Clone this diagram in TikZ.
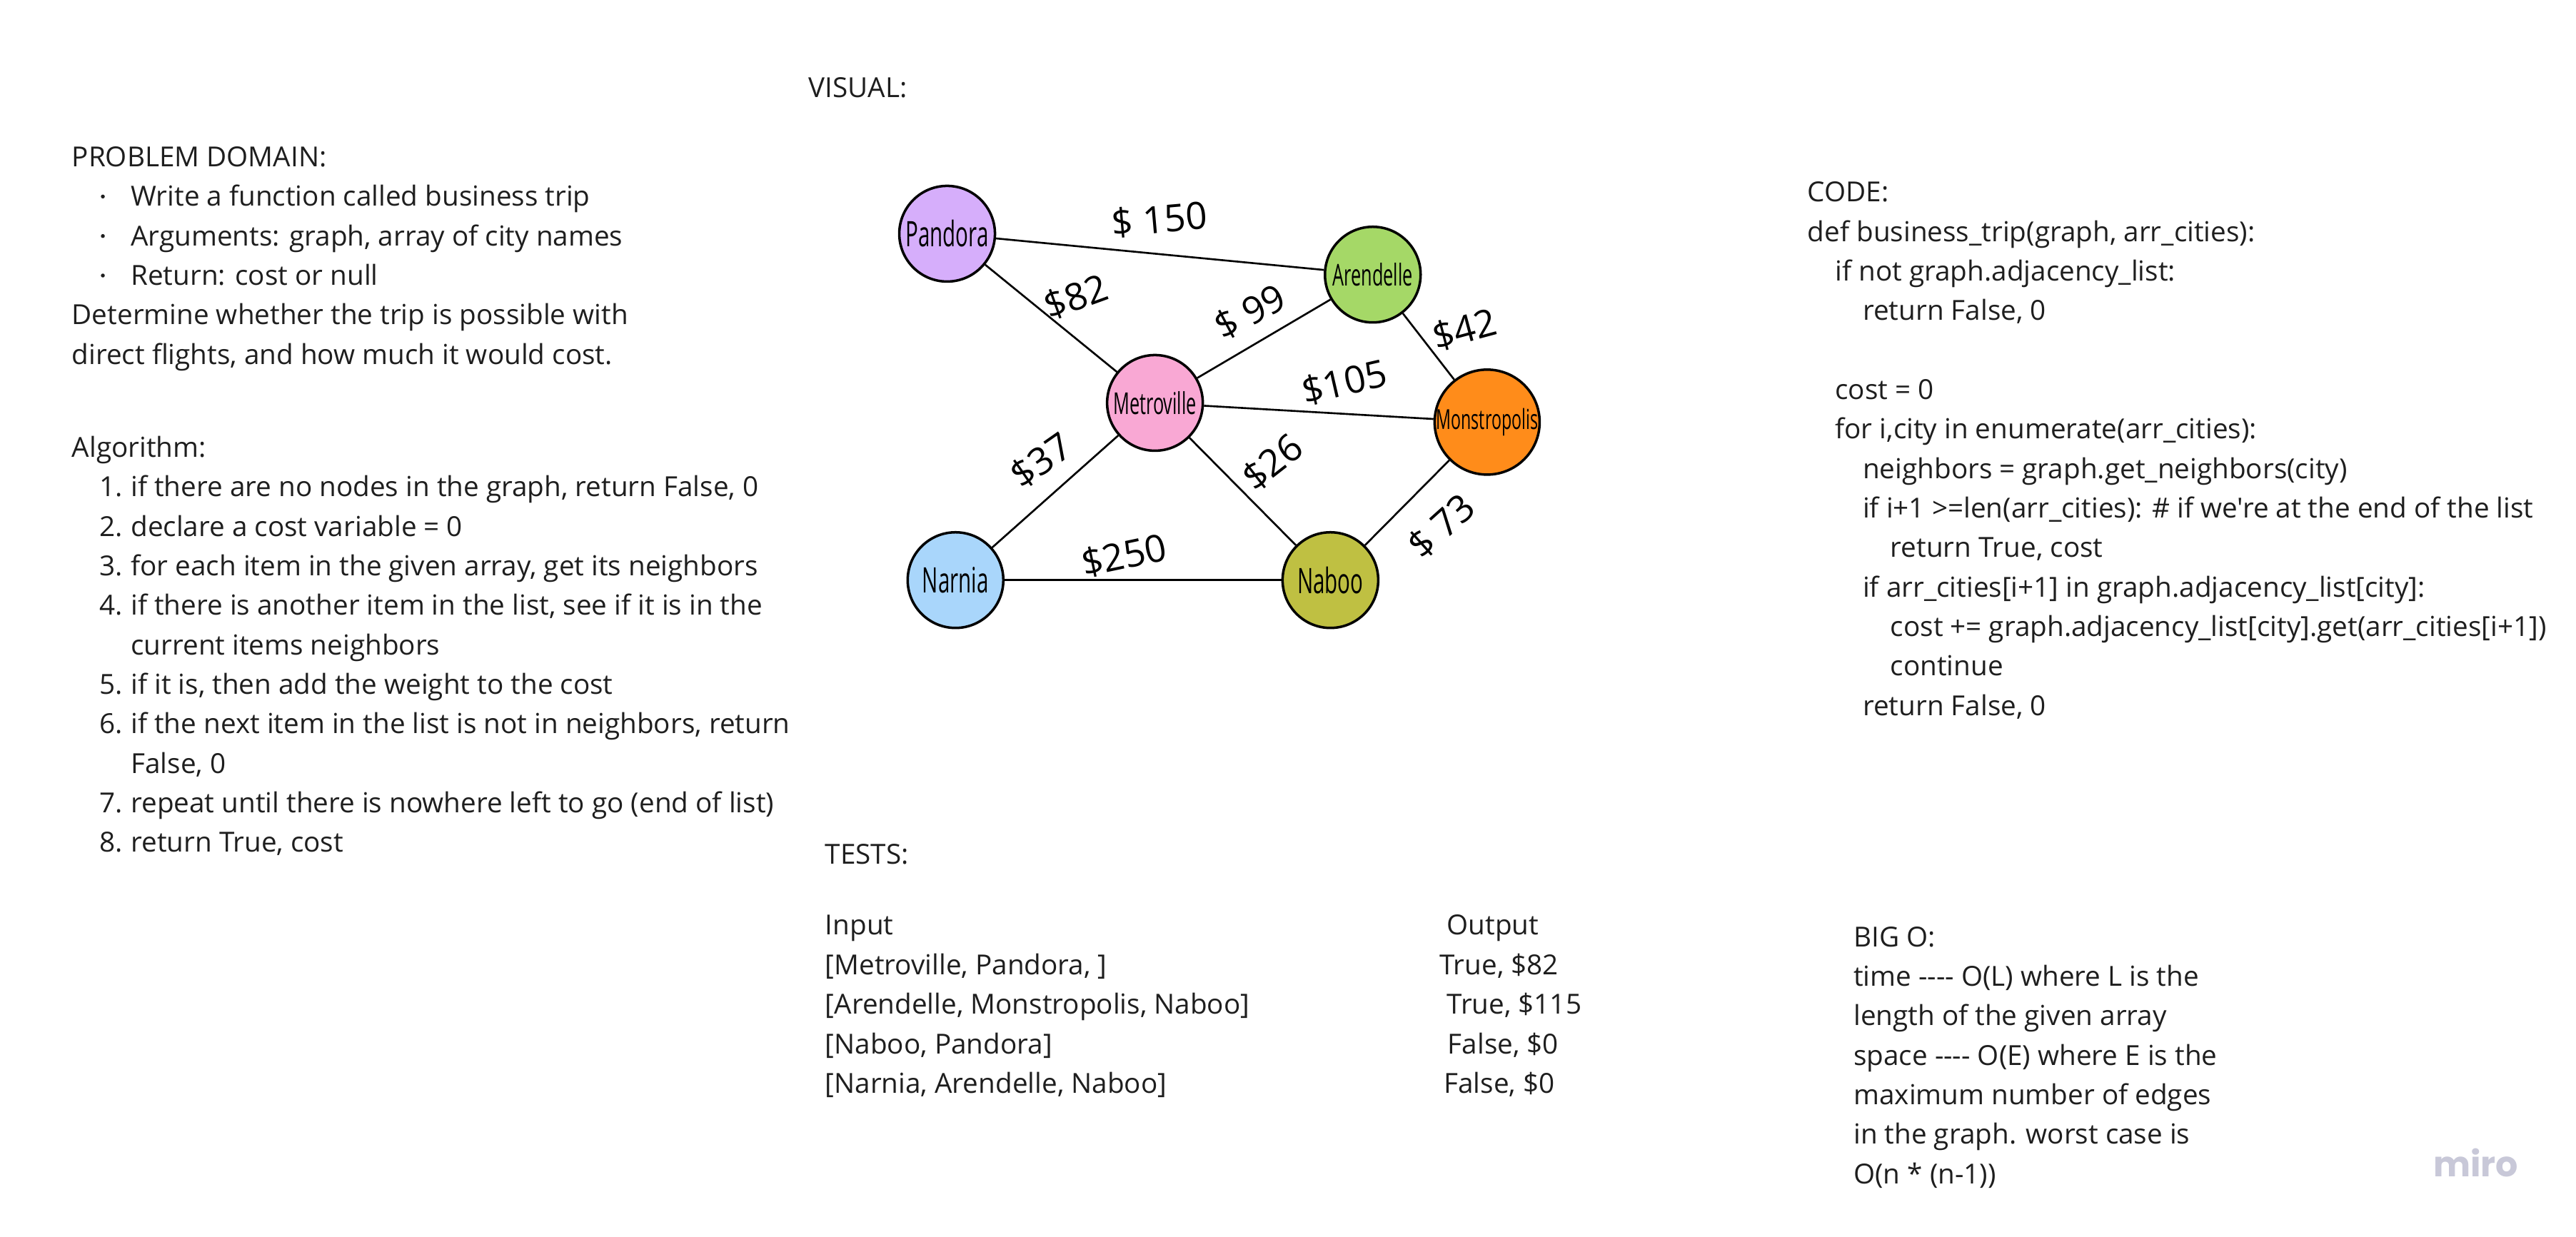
\documentclass[tikz,border=0pt]{standalone}
\usepackage{fontspec}
\setmainfont{Open Sans}[Ligatures=TeXOff]
\newfontfamily\handfont{Open Sans}[FakeStretch=0.6]
\newfontfamily\logofont{Poppins}

\definecolor{inkcol}{HTML}{1E1E1E}
\definecolor{pandoracol}{HTML}{D6AEFB}
\definecolor{arendellecol}{HTML}{A5D867}
\definecolor{metrovillecol}{HTML}{F9A8D4}
\definecolor{monstropoliscol}{HTML}{FF8C1A}
\definecolor{narniacol}{HTML}{A9D6FB}
\definecolor{naboocol}{HTML}{BFC042}
\definecolor{mirocol}{HTML}{C8C8D8}

\tikzset{
  note/.style={anchor=base west, inner sep=0pt, text height=0.75em, text depth=0.2em, text=inkcol, font=\fontsize{11}{14}\selectfont},
  city/.style={circle, draw=black, line width=1pt, minimum size=1.34cm, inner sep=0pt, font=\handfont\fontsize{#1}{#1}\selectfont},
  city/.default=14,
  route/.style={line width=0.75pt},
  cost/.style={inner sep=0pt, text height=0.75em, text depth=0pt, font=\fontsize{15}{15}\selectfont},
}

\begin{document}
\begin{tikzpicture}[x=0.02301cm, y=-0.02301cm]
\useasboundingbox (0,0) rectangle (1568,753);

% problem domain
\node[note] (domain) at (43.5,101.5) {PROBLEM DOMAIN:};
\foreach \txt [count=\i] in {{Write a function called business trip},{Arguments: graph, array of city names},{Return: cost or null}}{
  \fill[inkcol] (62.6,101.5+24.05*\i-5.9) circle (1.2);
  \node[note] (goal\i) at (79.4,101.5+24.05*\i) {\txt};
}
\node[note] (determine) at (43.5,197.7) {Determine whether the trip is possible with};
\node[note] (direct) at (43.5,221.7) {direct flights, and how much it would cost.};

% algorithm
\node[note] (algo) at (43.5,278.3) {Algorithm:};
\foreach \num/\k/\txt in {1./0/{if there are no nodes in the graph, return False, 0},
    2./1/{declare a cost variable = 0},
    3./2/{for each item in the given array, get its neighbors},
    4./3/{if there is another item in the list, see if it is in the},
    /4/{current items neighbors},
    5./5/{if it is, then add the weight to the cost},
    6./6/{if the next item in the list is not in neighbors, return},
    /7/{False, 0},
    7./8/{repeat until there is nowhere left to go (end of list)},
    8./9/{return True, cost}}{
  \node[note] (num\k) at (60.2,302.4+24.05*\k) {\num};
  \node[note] (step\k) at (79.4,302.4+24.05*\k) {\txt};
}

% visual
\node[note] (visual) at (492,59.5) {VISUAL:};

\node[city, fill=pandoracol] (pandora) at (576.5,142.3) {Pandora};
\node[city=12, fill=arendellecol] (arendelle) at (835.6,167.2) {Arendelle};
\node[city=12, fill=metrovillecol] (metroville) at (703,245.3) {Metroville};
\node[city=11, fill=monstropoliscol] (monstropolis) at (905.2,257) {Monstropolis};
\node[city, fill=narniacol] (narnia) at (581.6,353.2) {Narnia};
\node[city, fill=naboocol] (naboo) at (809.8,353.2) {Naboo};

\foreach \a/\b in {pandora/arendelle, pandora/metroville, metroville/arendelle,
    arendelle/monstropolis, metroville/monstropolis, metroville/narnia,
    metroville/naboo, narnia/naboo, naboo/monstropolis}
  \draw[route] (\a) -- (\b);

\node[cost, rotate=5] (c150) at (706,136) {\$ 150};
\node[cost, rotate=20] (c82) at (655.7,183) {\$82};
\node[cost, rotate=28] (c99) at (762,192) {\$ 99};
\node[cost, rotate=15] (c42) at (892,203) {\$42};
\node[cost, rotate=13] (c105) at (818.9,235) {\$105};
\node[cost, rotate=35] (c37) at (635,282.3) {\$37};
\node[cost, rotate=38] (c26) at (776,283.3) {\$26};
\node[cost, rotate=12] (c250) at (684.7,340.5) {\$250};
\node[cost, rotate=42] (c73) at (879,322) {\$ 73};

% tests
\node[note] (tests) at (502,526) {TESTS:};
\node[note] (input) at (502,569.3) {Input};
\node[note] (output) at (880.4,569.3) {Output};
\foreach \inp/\outp/\ox [count=\k] in {{[Metroville, Pandora, ]}/{True, \$82}/876,
    {[Arendelle, Monstropolis, Naboo]}/{True, \$115}/880.4,
    {[Naboo, Pandora]}/{False, \$0}/881,
    {[Narnia, Arendelle, Naboo]}/{False, \$0}/878.6}{
  \node[note] (in\k) at (502,569.3+24.05*\k) {\inp};
  \node[note] (out\k) at (\ox,569.3+24.05*\k) {\outp};
}

% code
\foreach \ind/\k/\txt in {0/0/{CODE:},
    0/1/{def business\_trip(graph, arr\_cities):},
    1/2/{if not graph.adjacency\_list:},
    2/3/{return False, 0},
    1/5/{cost = 0},
    1/6/{for i,city in enumerate(arr\_cities):},
    2/7/{neighbors = graph.get\_neighbors(city)},
    2/8/{if i+1 >=len(arr\_cities): \# if we're at the end of the list},
    3/9/{return True, cost},
    2/10/{if arr\_cities[i+1] in graph.adjacency\_list[city]:},
    3/11/{cost += graph.adjacency\_list[city].get(arr\_cities[i+1])},
    3/12/{continue},
    2/13/{return False, 0}}{
  \node[note] (code\k) at (1100+16.8*\ind,122.9+24.05*\k) {\txt};
}

% big o
\node[note] (bigo) at (1128,576.3) {BIG O:};
\foreach \txt [count=\k] in {{time ---- O(L) where L is the},
    {length of the given array},
    {space ---- O(E) where E is the},
    {maximum number of edges},
    {in the graph. worst case is},
    {O(n * (n-1))}}{
  \node[note] (cx\k) at (1128,576.3+24.05*\k) {\txt};
}

\node[text=mirocol, font=\logofont\bfseries\fontsize{14}{14}\selectfont] (miro) at (1507,708) {miro};
\end{tikzpicture}
\end{document}
